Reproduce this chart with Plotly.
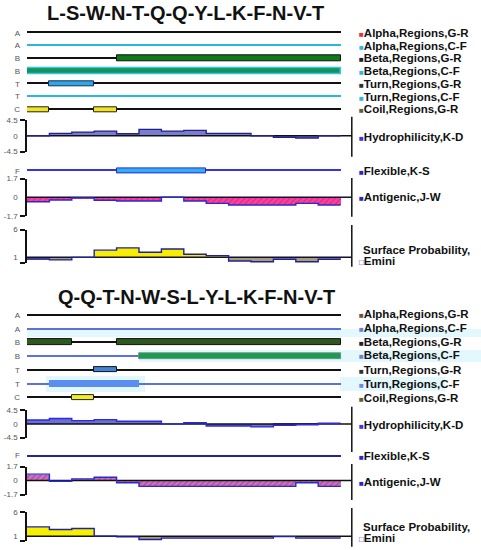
import plotly.graph_objects as go

W, H = 481, 550
PX0 = 27.0      # pixel of left axis
PX_RES = 22.4   # pixels per residue

# ---------------- data ----------------
title_top = "L-S-W-N-T-Q-Q-Y-L-K-F-N-V-T"
title_bottom = "Q-Q-T-N-W-S-L-Y-L-K-F-N-V-T"
residues = list(range(1, 15))

track_labels = ["A", "A", "B", "B", "T", "T", "C"]
track_names = ["Alpha,Regions,G-R", "Alpha,Regions,C-F", "Beta,Regions,G-R",
               "Beta,Regions,C-F", "Turn,Regions,G-R", "Turn,Regions,C-F",
               "Coil,Regions,G-R"]
plot_names = ["Hydrophilicity,K-D", "Flexible,K-S", "Antigenic,J-W"]

# (first residue, last residue) per track row
top_beta_gr = [(5, 14)]
top_beta_cf = [(1, 14)]
top_turn_gr = [(2, 3)]
top_coil_gr = [(1, 1), (4, 4)]
top_flex = [(5, 8)]

bot_beta_gr = [(1, 2), (5, 14)]
bot_beta_cf = [(6, 14)]
bot_turn_gr = [(4, 4)]
bot_turn_cf = [(2, 5)]
bot_coil_gr = [(3, 3)]
bot_flex = []

top_hydro = [0.0, 0.65, 1.0, 1.3, 0.55, 1.8, 1.3, 1.5, 0.65, 0.65, 0.0, -0.45, -0.65, 0.0]
top_antigen = [-0.4, -0.25, -0.05, -0.27, -0.33, -0.33, 0.0, -0.33, -0.55, -0.7, -0.7, -0.7, -0.55, -0.7]
top_surface = [0.7, 0.55, 1.0, 2.3, 2.7, 1.9, 2.5, 1.55, 1.3, 0.35, 0.2, 0.65, 0.2, 0.65]

bot_hydro = [1.3, 1.8, 1.1, 1.4, 0.9, 0.9, 0.0, 0.4, -0.7, -0.7, -1.0, -0.5, -0.3, 0.2]
bot_antigen = [0.78, -0.1, 0.2, 0.39, -0.28, -0.71, -0.71, -0.71, -0.71, -0.71, -0.71, -0.71, -0.28, -0.71]
bot_surface = [2.92, 2.37, 2.58, 1.0, 0.86, 0.32, 0.6, 0.6, 0.6, 0.6, 0.6, 0.9, 0.6, 0.6]

# ---------------- helpers ----------------
def ydom(top_px, bot_px):
    return [1 - bot_px / H, 1 - top_px / H]

def py(px):
    return 1 - px / H

fig = go.Figure()
FONT = "Liberation Sans, Arial, sans-serif"


def baseline(yaxis, row, color, px_w, row_px):
    fig.add_trace(go.Bar(orientation="h", y=[row], x=[14], base=[0.5], width=px_w / row_px,
                         marker=dict(color=color, line_width=0), xaxis="x", yaxis=yaxis))


def regions(yaxis, row, regs, fill, line, px_h, row_px, lw=1):
    if not regs:
        return
    fig.add_trace(go.Bar(orientation="h", y=[row] * len(regs),
                         x=[b - a + 1 for a, b in regs], base=[a - 0.5 for a, b in regs],
                         width=px_h / row_px,
                         marker=dict(color=fill, line=dict(color=line, width=lw)),
                         xaxis="x", yaxis=yaxis))


def step_line(yaxis, vals, color, width=1.4):
    xs = [r - 0.5 for r in residues] + [residues[-1] + 0.5]
    ys = list(vals) + [vals[-1]]
    fig.add_trace(go.Scatter(x=xs, y=ys, mode="lines", line=dict(color=color, width=width, shape="hv"),
                             xaxis="x", yaxis=yaxis))


def hline(yaxis, yv, color, width=1.5):
    fig.add_trace(go.Scatter(x=[0.5, 15.0], y=[yv, yv], mode="lines",
                             line=dict(color=color, width=width), xaxis="x", yaxis=yaxis))


# light cyan highlight bands (bottom panel)
for x0, x1, y0, y1 in [(27, 481, 329, 337), (139, 481, 350, 362), (46, 145, 376, 392), (340, 445, 377, 391)]:
    fig.add_shape(type="rect", xref="paper", yref="paper", x0=x0 / W, x1=x1 / W, y0=py(y1), y1=py(y0),
                  fillcolor="#e3f8fc", line_width=0, layer="below")

# ---------------- top panel ----------------
ROW_T = 12.78
top_line_colors = ["#111111", "#2bb7dc", "#111111", "#2bb7dc", "#111111", "#2bb7dc", "#111111"]
for i, c in enumerate(top_line_colors):
    baseline("y", i + 1, c, 1.4, ROW_T)
regions("y", 3, top_beta_gr, "#0c7a1c", "#111111", 5.5, ROW_T)
regions("y", 4, top_beta_cf, "#13925a", "#37c4e6", 6.0, ROW_T, lw=1.5)
regions("y", 5, top_turn_gr, "#2aaae0", "#1a2a60", 5.0, ROW_T)
regions("y", 7, top_coil_gr, "#f2e41e", "#222222", 4.8, ROW_T)

fig.add_trace(go.Bar(x=residues, y=top_hydro, width=1, marker=dict(color="#7a7cd0", line_width=0),
                     xaxis="x", yaxis="y2"))
hline("y2", 0, "#111111")
step_line("y2", top_hydro, "#22228c")

baseline("y3", 1, "#3434e0", 1.4, ROW_T)
regions("y3", 1, top_flex, "#33aef5", "#2a2ad0", 5.5, ROW_T)

fig.add_trace(go.Bar(x=residues, y=top_antigen, width=1,
                     marker=dict(color="#ff3f9c", line_width=0,
                                 pattern=dict(shape="/", fgcolor="#b01a66", size=4, solidity=0.3,
                                              fillmode="overlay")),
                     xaxis="x", yaxis="y4"))
hline("y4", 0, "#111133")
step_line("y4", top_antigen, "#2a2ad0")

fig.add_trace(go.Bar(x=residues, y=[v - 1 for v in top_surface], base=1, width=1,
                     marker=dict(color=["#f7ee00" if v >= 1 else "#a8a070" for v in top_surface],
                                 line_width=0),
                     xaxis="x", yaxis="y5"))
hline("y5", 1, "#111133")
step_line("y5", top_surface, "#2020a0")

# ---------------- bottom panel ----------------
ROW_B = 13.75
bot_line_colors = ["#111111", "#5a72e0", "#111111", "#5a72e0", "#111111", "#5a72e0", "#111111"]
for i, c in enumerate(bot_line_colors):
    baseline("y6", i + 1, c, 1.6 if c == "#111111" else 1.2, ROW_B)
regions("y6", 3, bot_beta_gr, "#2c5a1e", "#111111", 6.0, ROW_B)
regions("y6", 4, bot_beta_cf, "#1f9a4a", "#6a8aa0", 5.5, ROW_B, lw=0.8)
regions("y6", 5, bot_turn_gr, "#3f84d6", "#111111", 5.0, ROW_B)
regions("y6", 6, bot_turn_cf, "#5a8ef0", "#5a8ef0", 7.5, ROW_B, lw=0)
regions("y6", 7, bot_coil_gr, "#eeee22", "#222222", 5.0, ROW_B)

fig.add_trace(go.Bar(x=residues, y=bot_hydro, width=1, marker=dict(color="#6e6ed4", line_width=0),
                     xaxis="x", yaxis="y7"))
hline("y7", 0, "#111111")
step_line("y7", bot_hydro, "#2a2ae0")

baseline("y8", 1, "#24249a", 1.6, ROW_B)
regions("y8", 1, bot_flex, "#33aef5", "#2a2ad0", 5.5, ROW_B)

fig.add_trace(go.Bar(x=residues, y=bot_antigen, width=1,
                     marker=dict(color="#d070c0", line_width=0,
                                 pattern=dict(shape="/", fgcolor="#7a2a7a", size=4, solidity=0.3,
                                              fillmode="overlay")),
                     xaxis="x", yaxis="y9"))
hline("y9", 0, "#111111")
step_line("y9", bot_antigen, "#2a2ad0")

fig.add_trace(go.Bar(x=residues, y=[v - 1 for v in bot_surface], base=1, width=1,
                     marker=dict(color=["#f4f000" if v >= 1 else "#a8a070" for v in bot_surface],
                                 line_width=0),
                     xaxis="x", yaxis="y10"))
hline("y10", 1, "#111111")
step_line("y10", bot_surface, "#2020b0")

# ---------------- axes ----------------
tick_font = dict(family=FONT, size=8, color="#555555")


def track_axis(dom, labels, rng):
    return dict(domain=dom, range=rng, anchor="x", showgrid=False, zeroline=False, showline=False,
                tickvals=list(range(1, len(labels) + 1)), ticktext=labels, ticks="",
                ticklabelstandoff=6, tickfont=tick_font, fixedrange=True, automargin=False)


def value_axis(dom, lo, hi, tv, tt):
    return dict(domain=dom, range=[lo, hi], anchor="x", showgrid=False, zeroline=False,
                showline=True, linecolor="#111111", linewidth=1.5, automargin=False,
                tickvals=tv, ticktext=tt, ticks="", ticklabelstandoff=6, tickfont=tick_font,
                minor=dict(tickvals=[lo, hi], ticks="outside", ticklen=5, tickcolor="#111111",
                           tickwidth=1.5))


layout_axes = dict(
    yaxis=track_axis(ydom(26.3, 115.8), track_labels, [7.5, 0.5]),
    yaxis2=value_axis(ydom(119.8, 151.6), -4.5, 4.5, [-4.5, 0, 4.5], ["-4.5", "0", "4.5"]),
    yaxis3=track_axis(ydom(164.4, 177.2), ["F"], [1.5, 0.5]),
    yaxis4=value_axis(ydom(178.6, 216.0), -1.7, 1.7, [-1.7, 0, 1.7], ["-1.7", "0", "1.7"]),
    yaxis5=value_axis(ydom(229.5, 262.9), 0, 6, [1, 6], ["1", "6"]),
    yaxis6=track_axis(ydom(308.1, 404.4), track_labels, [7.5, 0.5]),
    yaxis7=value_axis(ydom(410.3, 437.5), -4.5, 4.5, [-4.5, 0, 4.5], ["-4.5", "0", "4.5"]),
    yaxis8=track_axis(ydom(448.6, 462.4), ["F"], [1.5, 0.5]),
    yaxis9=value_axis(ydom(466.5, 494.5), -1.7, 1.7, [-1.7, 0, 1.7], ["-1.7", "0", "1.7"]),
    yaxis10=value_axis(ydom(512.0, 541.0), 0, 6, [1, 6], ["1", "6"]),
)

# right-hand axis lines
for y0, y1 in [(116.7, 156.7), (178.0, 216.7), (225.0, 266.7),
               (406.7, 452.0), (464.0, 500.0), (508.0, 546.7)]:
    fig.add_shape(type="line", xref="x", yref="paper", x0=15.0, x1=15.0, y0=py(y1), y1=py(y0),
                  line=dict(color="#111111", width=1.5))

# ---------------- titles and legend text ----------------
ann = []
ann.append(dict(text="<b>%s</b>" % title_top, x=185 / W, y=py(13.5), xref="paper", yref="paper",
                showarrow=False, font=dict(family=FONT, size=20, color="#111111"),
                xanchor="center", yanchor="middle"))
ann.append(dict(text="<b>%s</b>" % title_bottom, x=196 / W, y=py(296.5), xref="paper", yref="paper",
                showarrow=False, font=dict(family=FONT, size=20, color="#111111"),
                xanchor="center", yanchor="middle"))

top_marker_colors = ["#e8303c", "#30b8e0", "#202020", "#30b8e0", "#303030", "#30b8e0", "#606038",
                     "#3838e0", "#2828c8", "#2828c8"]
bot_marker_colors = ["#6e5636", "#6a80e0", "#202020", "#6a80d8", "#303030", "#7088e8", "#606030",
                     "#3838e0", "#2828c8", "#2828c8"]
top_legend_y = [32.7, 45.5, 58.3, 71.0, 83.8, 96.6, 109.4, 136.5, 171.0, 196.7]
bot_legend_y = [314.0, 327.5, 341.7, 355.0, 370.0, 384.0, 397.7, 425.0, 455.7, 481.7]
legend_names = track_names + plot_names
LEG_X = 357.0


def legend_entry(name, color, ypx, hollow=False):
    mark = "□" if hollow else "■"
    ann.append(dict(text="<span style='font-size:8px;color:%s'>%s</span><b>%s</b>" % (color, mark, name),
                    x=LEG_X / W, y=py(ypx), xref="paper", yref="paper", showarrow=False,
                    font=dict(family=FONT, size=11.5, color="#111111"),
                    xanchor="left", yanchor="middle"))


for cols, ys, s1, s2 in [(top_marker_colors, top_legend_y, 250.0, 260.5),
                         (bot_marker_colors, bot_legend_y, 527.3, 538.3)]:
    for n, c, yy in zip(legend_names, cols, ys):
        legend_entry(n, c, yy)
    ann.append(dict(text="<b>Surface Probability,</b>", x=(LEG_X + 4) / W, y=py(s1), xref="paper",
                    yref="paper", showarrow=False, font=dict(family=FONT, size=11.5, color="#111111"),
                    xanchor="left", yanchor="middle"))
    legend_entry("Emini", "#2828c8", s2, hollow=True)

fig.update_layout(
    width=W, height=H, margin=dict(l=0, r=0, t=0, b=0, autoexpand=False),
    paper_bgcolor="white", plot_bgcolor="rgba(0,0,0,0)",
    showlegend=False, barmode="overlay", bargap=0,
    xaxis=dict(domain=[PX0 / W, 1], range=[0.5, 0.5 + (W - PX0) / PX_RES], visible=False,
               fixedrange=True, automargin=False),
    annotations=ann,
    **layout_axes,
)

# drop the browser's default body margin so the figure fills the window
fig.write_html("out.html", config={"displayModeBar": False},
               post_script="document.body.style.margin='0px';")
